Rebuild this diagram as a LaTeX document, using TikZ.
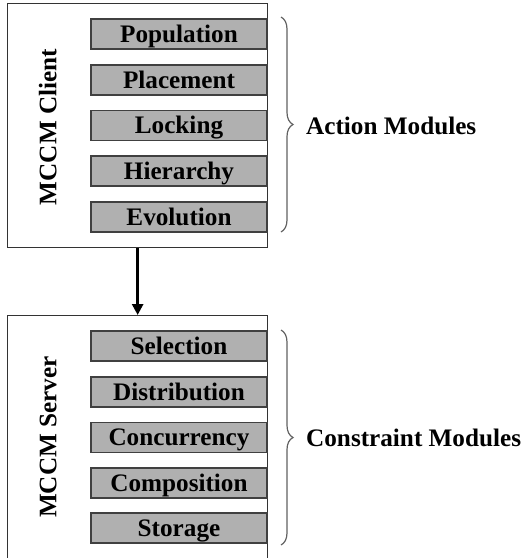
\documentclass[tikz,border=0pt]{standalone}
\usepackage{fontspec}
\setmainfont{Liberation Serif}
\usetikzlibrary{arrows.meta,decorations.pathreplacing}
\begin{document}
\begin{tikzpicture}[x=1pt,y=-1pt,
  bigfont/.style={font=\fontsize{25.2}{29}\selectfont\bfseries},
  outerbox/.style={draw=black!80,line width=1.3pt,fill=white,inner sep=0pt,minimum width=260pt,anchor=north west},
  modbox/.style={draw=black!75,line width=1.3pt,fill=black!31,inner sep=0pt,minimum width=176pt,minimum height=30pt,text height=16.5pt,text depth=0pt,bigfont},
  sidelabel/.style={bigfont,rotate=90,inner sep=0pt,text height=16.5pt,text depth=0pt},
  bracestyle/.style={draw=black!62,line width=1.2pt,decorate,decoration={brace,amplitude=12pt,aspect=0.5}},
  grouplabel/.style={bigfont,anchor=west,inner sep=0pt,text height=16.5pt,text depth=0pt}]
\useasboundingbox (0,0) rectangle (524,558);
\clip (0,0) rectangle (524,558);
\node[outerbox,minimum height=244pt] (client) at (7,3) {};
\node[outerbox,minimum height=300pt] (server) at (7,315) {};
\draw[line width=2.6pt,-{Triangle[width=11pt,length=11pt]}] (client.south) -- (server.north);
\node[sidelabel] (clientlabel) at (48,127) {MCCM Client};
\node[sidelabel] (serverlabel) at (48,437) {MCCM Server};
\node[modbox] (population) at (179,34) {Population};
\node[modbox] (placement) at (179,80) {Placement};
\node[modbox] (locking) at (179,125.5) {Locking};
\node[modbox] (hierarchy) at (179,171) {Hierarchy};
\node[modbox] (evolution) at (179,217) {Evolution};
\node[modbox] (selection) at (179,346) {Selection};
\node[modbox] (distribution) at (179,392) {Distribution};
\node[modbox] (concurrency) at (179,437.5) {Concurrency};
\node[modbox] (composition) at (179,483) {Composition};
\node[modbox] (storage) at (179,528) {Storage};
\coordinate (atop) at (281,17);
\coordinate (abot) at (281,232);
\coordinate (ctop) at (281,330);
\coordinate (cbot) at (281,545);
\draw[bracestyle] (atop) -- (abot);
\draw[bracestyle] (ctop) -- (cbot);
\node[grouplabel] (action) at (306,126) {Action Modules};
\node[grouplabel] (constraint) at (306,438) {Constraint Modules};
\end{tikzpicture}
\end{document}
